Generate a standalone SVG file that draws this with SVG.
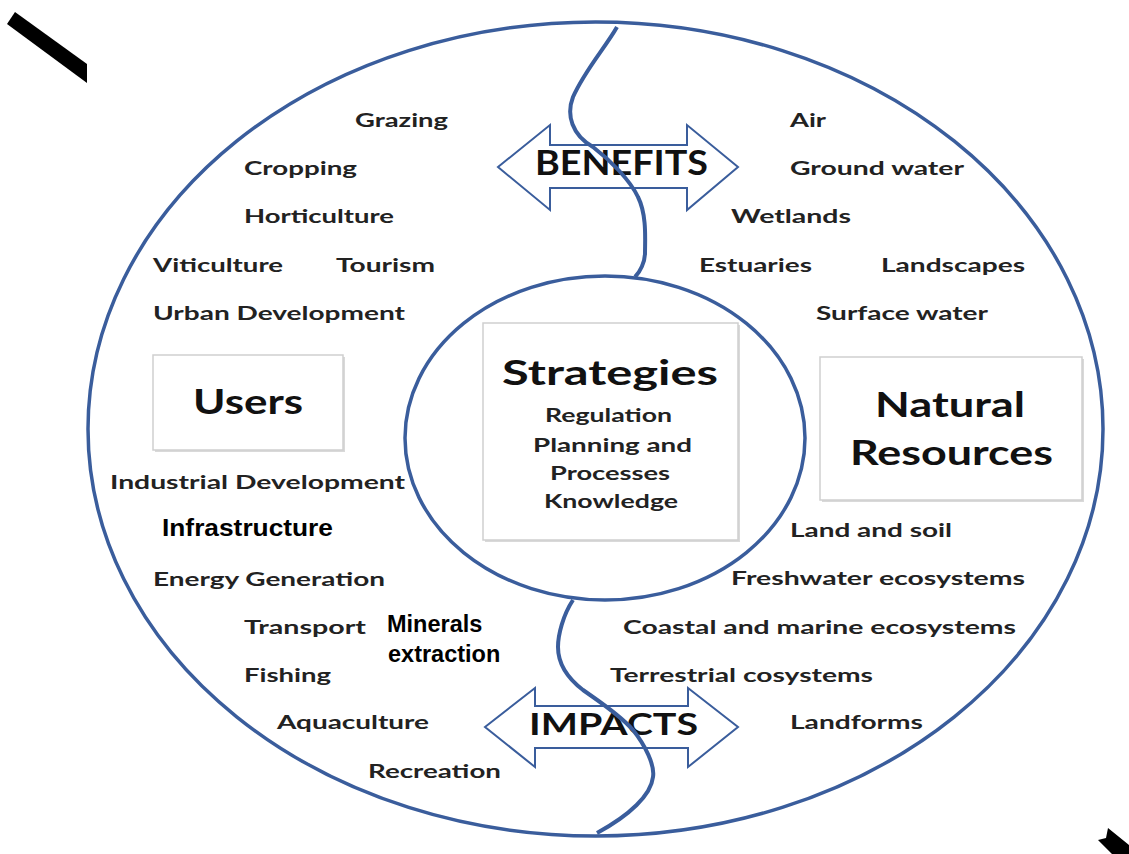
<svg xmlns="http://www.w3.org/2000/svg" width="1129" height="854" viewBox="0 0 1129 854">
<style>
.ln{fill:none;stroke:#3a5d9c;stroke-width:3.5}
.cv{fill:none;stroke:#3a5d9c;stroke-width:4}
.arr{fill:#fff;stroke:#3a5d9c;stroke-width:2}
.box{fill:#fff;stroke:#cfcfcf;stroke-width:1.5}
.shd{fill:#d9d9d9}
.lb{font-family:Lato,"Open Sans",sans-serif;font-weight:700;font-size:19px;fill:#222}
.ar{font-family:"Liberation Sans",Arial,sans-serif;font-weight:700;font-size:23.5px;fill:#000}
.big{font-family:Lato,"Open Sans",sans-serif;font-weight:700;font-size:34px;fill:#111}
.sub{font-family:Lato,"Open Sans",sans-serif;font-weight:700;font-size:19.5px;fill:#222}
.arl{font-family:Lato,"Open Sans",sans-serif;font-weight:700;fill:#111}
</style>
<rect width="1129" height="854" fill="#fff"/>
<g id="corner-marks">
<polygon points="15,12 87,64 87,83 7,24" fill="#000"/>
<polygon points="1108,828 1129,845 1129,854 1112,854 1098,840 1106,838" fill="#000"/>
</g>
<g id="outer-ring"><ellipse class="ln" cx="595.5" cy="429" rx="507.5" ry="407"/></g>
<g id="benefits">
<polygon class="arr" points="498,167 550,125 550,145 687,145 687,125 738,167 687,210 687,188 550,188 550,210"/>
<text class="arl" x="535" y="175" font-size="34" textLength="173" lengthAdjust="spacingAndGlyphs">BENEFITS</text>
</g>
<g id="impacts">
<polygon class="arr" points="485,727 535,688 535,706 688,706 688,688 738,727 688,767 688,748 535,748 535,767"/>
<text class="arl" x="529" y="735" font-size="31" textLength="169" lengthAdjust="spacingAndGlyphs">IMPACTS</text>
</g>
<g id="connectors">
<path class="cv" d="M617,27 C605,48 585,70 573,97 C566,115 572,135 593,147 C610,160 630,180 638,197 C647,215 645,240 645,253 C645,262 640,272 635,277"/>
<path class="cv" d="M573,600 C563,615 558,635 558,647 C558,665 570,680 583,690 C600,702 620,715 633,730 C645,745 655,765 653,777 C651,795 630,815 597,833"/>
</g>
<g id="strategies">
<ellipse class="ln" cx="605" cy="438" rx="200" ry="162"/>
<rect class="shd" x="485" y="325" width="255" height="217"/>
<rect class="box" x="483" y="323" width="255" height="217"/>
<text class="big" x="502" y="385" font-size="35" textLength="216" lengthAdjust="spacingAndGlyphs">Strategies</text>
<text class="sub" x="545" y="422" textLength="127" lengthAdjust="spacingAndGlyphs">Regulation</text>
<text class="sub" x="533" y="452" textLength="159" lengthAdjust="spacingAndGlyphs">Planning and</text>
<text class="sub" x="550" y="480" textLength="120" lengthAdjust="spacingAndGlyphs">Processes</text>
<text class="sub" x="544" y="508" textLength="134" lengthAdjust="spacingAndGlyphs">Knowledge</text>
</g>
<g id="users">
<rect class="shd" x="155" y="357" width="190" height="95"/>
<rect class="box" x="153" y="355" width="190" height="95"/>
<text class="big" x="193" y="414" textLength="110" lengthAdjust="spacingAndGlyphs">Users</text>
</g>
<g id="natural-resources">
<rect class="shd" x="822" y="359" width="262" height="143"/>
<rect class="box" x="820" y="357" width="262" height="143"/>
<text class="big" x="875" y="417" textLength="150" lengthAdjust="spacingAndGlyphs">Natural</text>
<text class="big" x="850" y="465" textLength="203" lengthAdjust="spacingAndGlyphs">Resources</text>
</g>
<g id="user-labels">
<text class="lb" x="355" y="127" textLength="93" lengthAdjust="spacingAndGlyphs">Grazing</text>
<text class="lb" x="244" y="175" textLength="113" lengthAdjust="spacingAndGlyphs">Cropping</text>
<text class="lb" x="244" y="223" textLength="150" lengthAdjust="spacingAndGlyphs">Horticulture</text>
<text class="lb" x="153" y="272" textLength="130" lengthAdjust="spacingAndGlyphs">Viticulture</text>
<text class="lb" x="336" y="272" textLength="99" lengthAdjust="spacingAndGlyphs">Tourism</text>
<text class="lb" x="153" y="320" textLength="252" lengthAdjust="spacingAndGlyphs">Urban Development</text>
<text class="lb" x="110" y="489" textLength="295" lengthAdjust="spacingAndGlyphs">Industrial Development</text>
<text class="ar" x="162" y="536" textLength="171" lengthAdjust="spacingAndGlyphs">Infrastructure</text>
<text class="lb" x="153" y="586" textLength="232" lengthAdjust="spacingAndGlyphs">Energy Generation</text>
<text class="lb" x="244" y="634" textLength="122" lengthAdjust="spacingAndGlyphs">Transport</text>
<text class="ar" x="387" y="632">Minerals</text>
<text class="ar" x="388" y="662">extraction</text>
<text class="lb" x="244" y="682" textLength="87" lengthAdjust="spacingAndGlyphs">Fishing</text>
<text class="lb" x="277" y="729" textLength="152" lengthAdjust="spacingAndGlyphs">Aquaculture</text>
<text class="lb" x="368" y="778" textLength="133" lengthAdjust="spacingAndGlyphs">Recreation</text>
</g>
<g id="resource-labels">
<text class="lb" x="790" y="127" textLength="36" lengthAdjust="spacingAndGlyphs">Air</text>
<text class="lb" x="790" y="175" textLength="174" lengthAdjust="spacingAndGlyphs">Ground water</text>
<text class="lb" x="731" y="223" textLength="120" lengthAdjust="spacingAndGlyphs">Wetlands</text>
<text class="lb" x="699" y="272" textLength="113" lengthAdjust="spacingAndGlyphs">Estuaries</text>
<text class="lb" x="881" y="272" textLength="144" lengthAdjust="spacingAndGlyphs">Landscapes</text>
<text class="lb" x="816" y="320" textLength="172" lengthAdjust="spacingAndGlyphs">Surface water</text>
<text class="lb" x="790" y="537" textLength="162" lengthAdjust="spacingAndGlyphs">Land and soil</text>
<text class="lb" x="731" y="585" textLength="294" lengthAdjust="spacingAndGlyphs">Freshwater ecosystems</text>
<text class="lb" x="623" y="634" textLength="393" lengthAdjust="spacingAndGlyphs">Coastal and marine ecosystems</text>
<text class="lb" x="610" y="682" textLength="263" lengthAdjust="spacingAndGlyphs">Terrestrial cosystems</text>
<text class="lb" x="790" y="729" textLength="133" lengthAdjust="spacingAndGlyphs">Landforms</text>
</g>
</svg>
